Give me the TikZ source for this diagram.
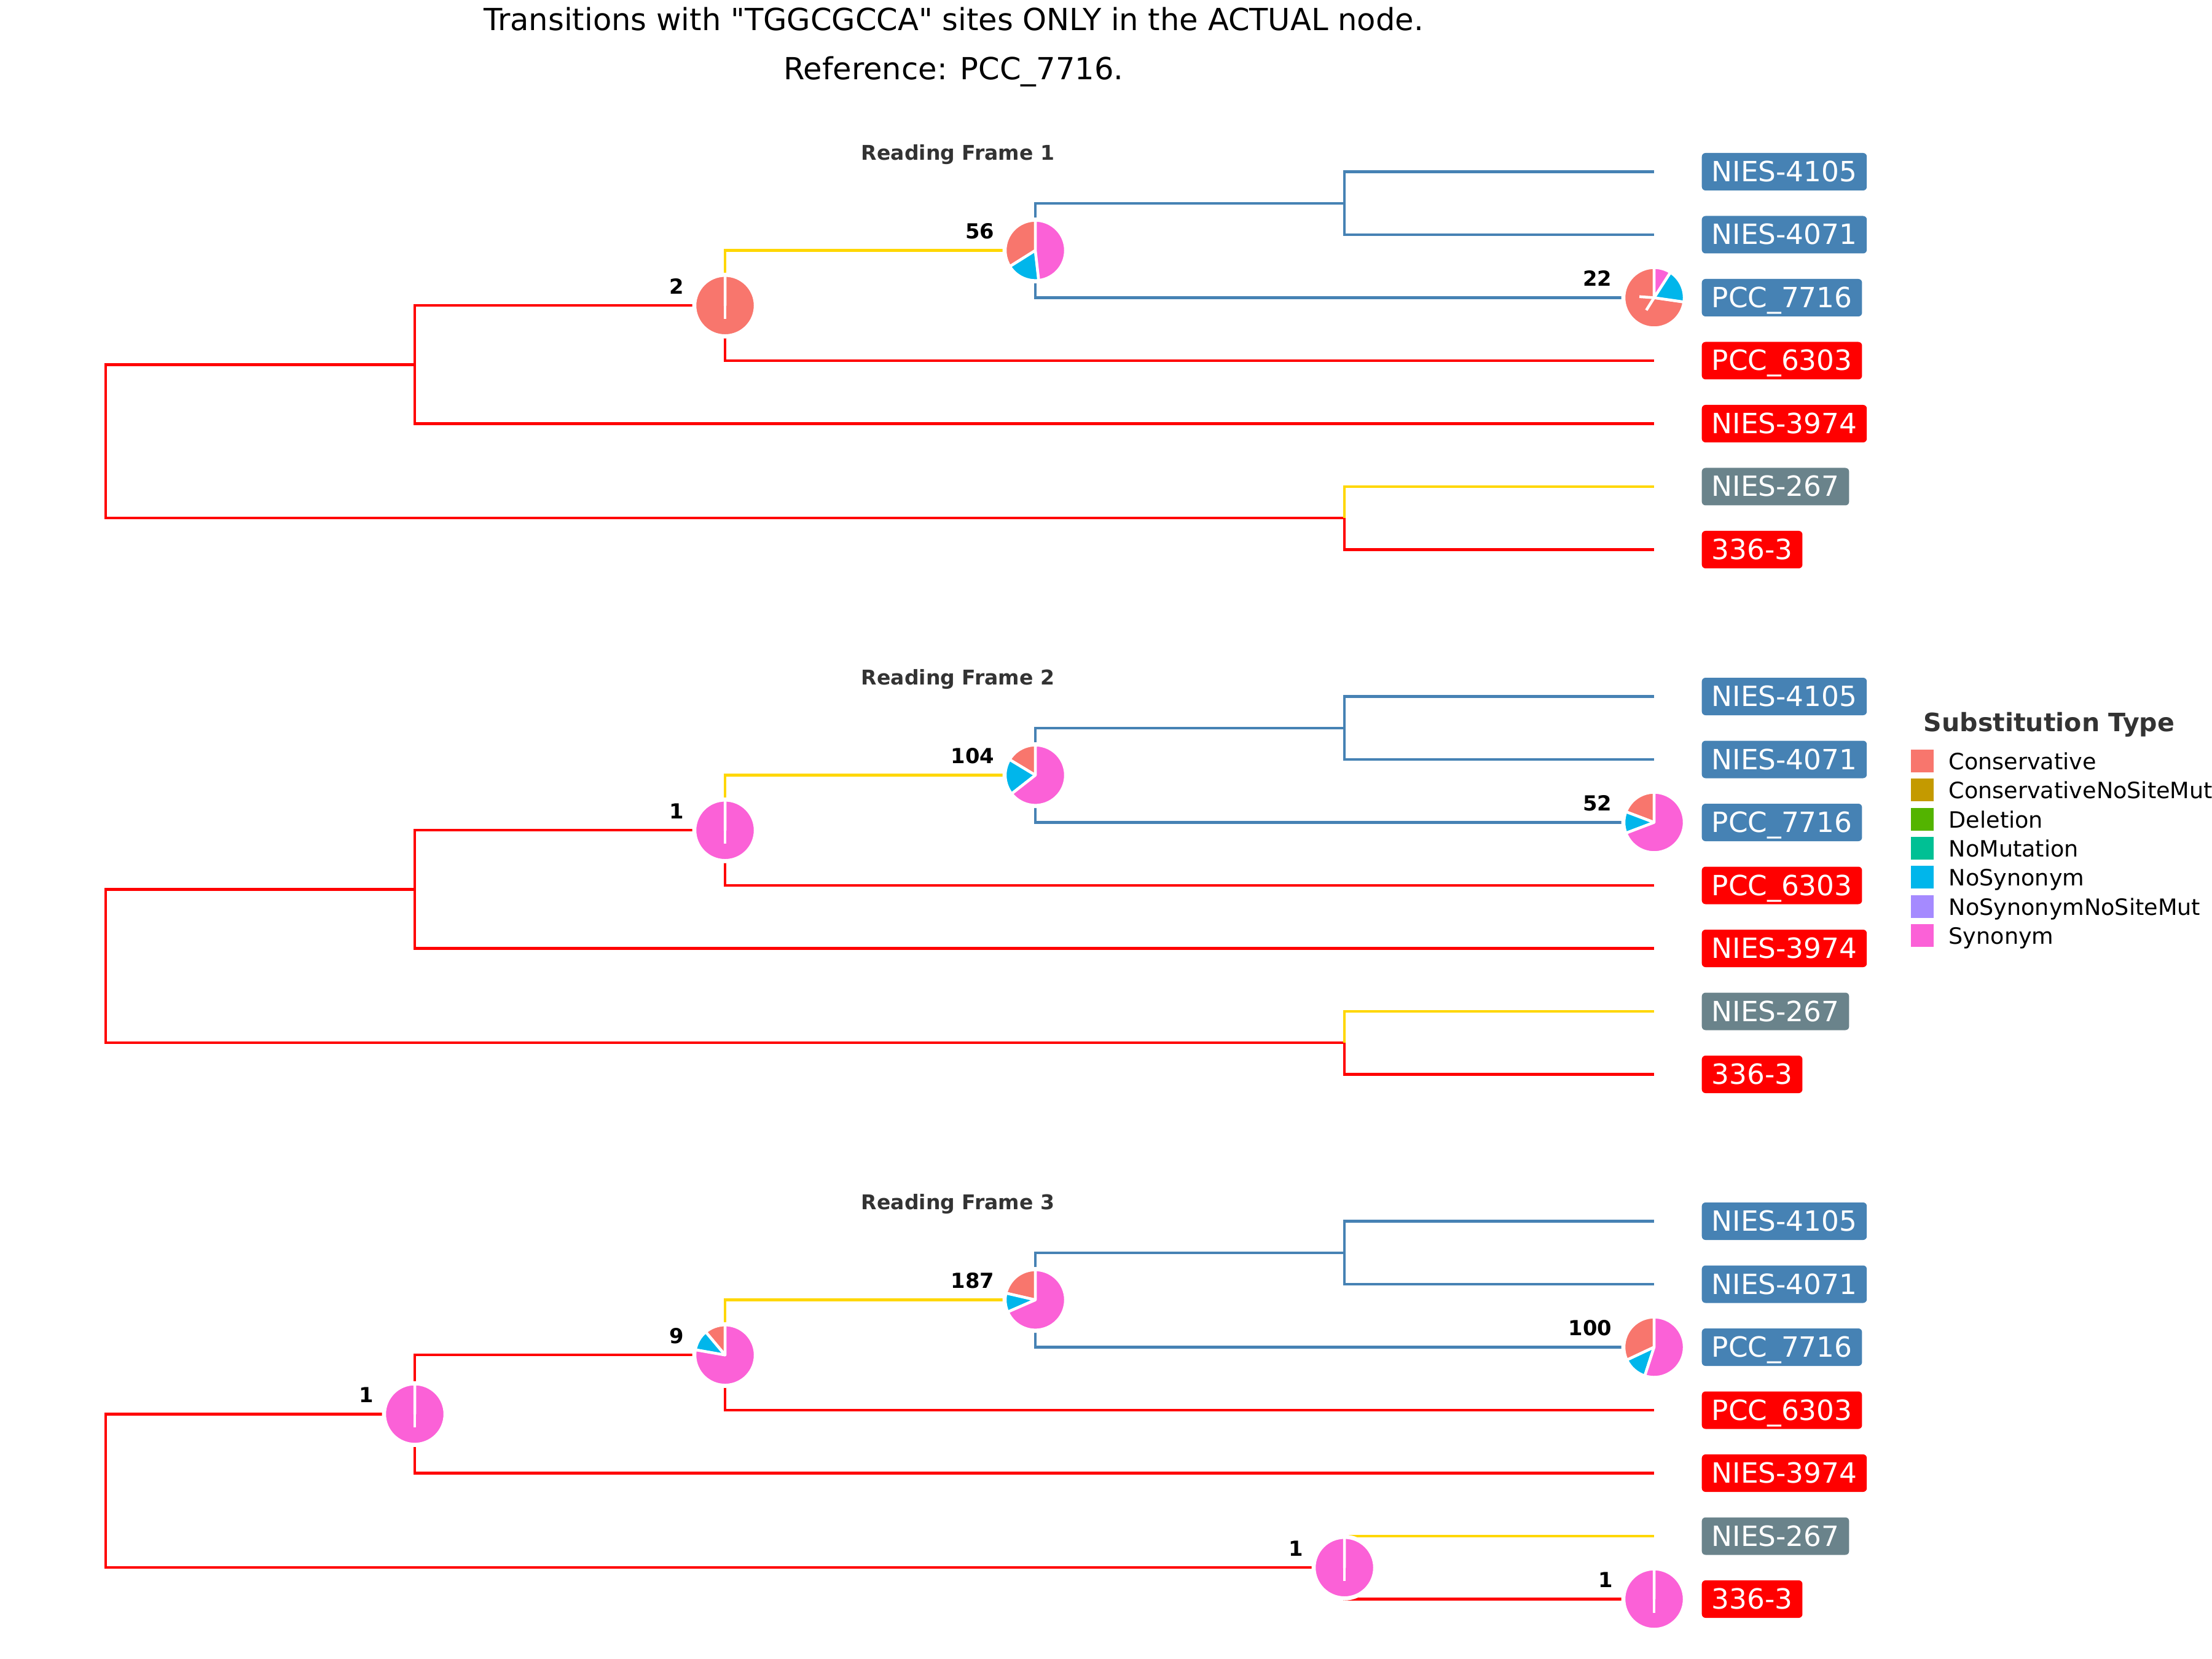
\documentclass[tikz,border=0pt]{standalone}
\usepackage{fontspec}
\setmainfont{DejaVu Sans}[Ligatures=TeXOff]
\usetikzlibrary{positioning}

\definecolor{cons}{HTML}{F8766D}
\definecolor{consnsm}{HTML}{C49A00}
\definecolor{delet}{HTML}{53B400}
\definecolor{nomut}{HTML}{00C094}
\definecolor{nosyn}{HTML}{00B6EB}
\definecolor{nosynnsm}{HTML}{A58AFF}
\definecolor{syn}{HTML}{FB61D7}
\definecolor{cladeblue}{HTML}{4682B4}
\definecolor{cladegold}{HTML}{FFD700}
\definecolor{cladegray}{HTML}{6A838B}
\definecolor{headgray}{HTML}{333333}

% pie at a named coordinate: list of start/end/colour
\newcommand{\piechart}[2]{%
  \fill[white] (#1) circle (0.535);
  \foreach \sa/\ea/\col in {#2}
    \filldraw[fill=\col, draw=white, line width=0.045cm, line join=round]
      (#1) -- ++(\sa:0.49) arc[start angle=\sa, end angle=\ea, radius=0.49] -- cycle;
}
\newcommand{\fullpie}[2]{%
  \piechart{#1}{90/450/#2}
  \draw[white, line width=0.045cm] (#1) -- ++(0,-0.22);
}

\begin{document}
\begin{tikzpicture}[
  edge/.style={line width=0.043cm},
  redge/.style={edge, red},
  gedge/.style={edge, cladegold},
  bedge/.style={edge, cladeblue},
  tiplab/.style={rounded corners=0.06cm, text=white, inner xsep=0.16cm, inner ysep=0.135cm,
    text height=0.33cm, text depth=0.01cm, font=\fontsize{12.9}{15}\selectfont},
  cnt/.style={anchor=base east, inner sep=0, font=\fontsize{9.6}{11}\selectfont\bfseries},
  frametitle/.style={anchor=base, inner sep=0, text=headgray, font=\fontsize{9.4}{11}\selectfont\bfseries},
  title/.style={anchor=base, inner sep=0, font=\fontsize{14.1}{17}\selectfont},
  legtitle/.style={anchor=base west, inner sep=0, text=headgray, font=\fontsize{11.7}{14}\selectfont\bfseries},
  legkey/.style={minimum size=0.37cm, inner sep=0},
  legtext/.style={anchor=base west, inner sep=0, font=\fontsize{10.4}{12}\selectfont}
]
\useasboundingbox (0,0) rectangle (36,-27);

\node[title] (title1) at (15.52,-0.50) {Transitions with "TGGCGCCA" sites ONLY in the ACTUAL node.};
\node[title] (title2) at (15.52,-1.30) {Reference: PCC\_7716.};

% three trees, one per reading frame
\foreach \p/\n in {0/1,1/2,2/3} {
  \pgfmathsetmacro{\off}{8.54*\p}
  \node[frametitle] (rf\p) at (15.59,{-2.607-\off}) {Reading Frame \n};
  \coordinate (root\p) at (1.72,{-7.183-\off});
  \coordinate (a\p) at (6.75,{-5.934-\off});
  \coordinate (b\p) at (11.80,{-4.973-\off});
  \coordinate (c\p) at (16.85,{-4.076-\off});
  \coordinate (d\p) at (21.88,{-3.3075-\off});
  \coordinate (e\p) at (21.88,{-8.4325-\off});
  \foreach \i/\txt/\col in {0/NIES-4105/cladeblue, 1/NIES-4071/cladeblue, 2/PCC\_7716/cladeblue,
      3/PCC\_6303/red, 4/NIES-3974/red, 5/NIES-267/cladegray, 6/336-3/red} {
    \coordinate (t\p\i) at (26.92,{-2.795-1.025*\i-\off});
    \node[tiplab, fill=\col, right=0.77cm of t\p\i] (lab\p\i) {\txt};
  }
  \draw[redge] (root\p) |- (a\p);
  \draw[redge] (root\p) |- (e\p);
  \draw[redge] (a\p) |- (b\p);
  \draw[redge] (a\p) |- (t\p4);
  \draw[gedge] (b\p) |- (c\p);
  \draw[redge] (b\p) |- (t\p3);
  \draw[bedge] (c\p) |- (d\p);
  \draw[bedge] (c\p) |- (t\p2);
  \draw[bedge] (d\p) |- (t\p0);
  \draw[bedge] (d\p) |- (t\p1);
  \draw[gedge] (e\p) |- (t\p5);
  \draw[redge] (e\p) |- (t\p6);
}

% pies, frame 1
\fullpie{b0}{cons}
\piechart{c0}{90/212.14/cons, 212.14/276.43/nosyn, 276.43/450/syn}
\piechart{t02}{90/351.82/cons, 351.82/417.27/nosyn, 417.27/450/syn}
\draw[white, line width=0.045cm] (t02) -- ++(176:0.24) (t02) -- ++(238:0.24);
\node[cnt] (n-b0) at ([shift={(-0.66,0.19)}]b0) {2};
\node[cnt] (n-c0) at ([shift={(-0.66,0.19)}]c0) {56};
\node[cnt] (n-t02) at ([shift={(-0.68,0.19)}]t02) {22};

% pies, frame 2
\fullpie{b1}{syn}
\piechart{c1}{90/148.85/cons, 148.85/218.08/nosyn, 218.08/450/syn}
\piechart{t12}{90/159.23/cons, 159.23/200.77/nosyn, 200.77/450/syn}
\node[cnt] (n-b1) at ([shift={(-0.66,0.19)}]b1) {1};
\node[cnt] (n-c1) at ([shift={(-0.66,0.19)}]c1) {104};
\node[cnt] (n-t12) at ([shift={(-0.68,0.19)}]t12) {52};

% pies, frame 3
\fullpie{a2}{syn}
\piechart{b2}{90/130/cons, 130/170/nosyn, 170/450/syn}
\piechart{c2}{90/167/cons, 167/203.6/nosyn, 203.6/450/syn}
\fullpie{e2}{syn}
\fullpie{t26}{syn}
\piechart{t22}{90/205.2/cons, 205.2/252/nosyn, 252/450/syn}
\node[cnt] (n-a2) at ([shift={(-0.66,0.19)}]a2) {1};
\node[cnt] (n-b2) at ([shift={(-0.66,0.19)}]b2) {9};
\node[cnt] (n-c2) at ([shift={(-0.66,0.19)}]c2) {187};
\node[cnt] (n-e2) at ([shift={(-0.66,0.19)}]e2) {1};
\node[cnt] (n-t26) at ([shift={(-0.66,0.19)}]t26) {1};
\node[cnt] (n-t22) at ([shift={(-0.68,0.19)}]t22) {100};

% legend
\node[legtitle] (legtitle) at (31.30,-11.90) {Substitution Type};
\foreach \k/\col/\txt in {0/cons/Conservative, 1/consnsm/ConservativeNoSiteMut, 2/delet/Deletion,
    3/nomut/NoMutation, 4/nosyn/NoSynonym, 5/nosynnsm/NoSynonymNoSiteMut, 6/syn/Synonym} {
  \node[legkey, fill=\col] (key\k) at (31.285,{-12.385-0.473*\k}) {};
  \node[legtext] (keylab\k) at (31.71,{-12.525-0.473*\k}) {\txt};
}
\end{tikzpicture}
\end{document}
